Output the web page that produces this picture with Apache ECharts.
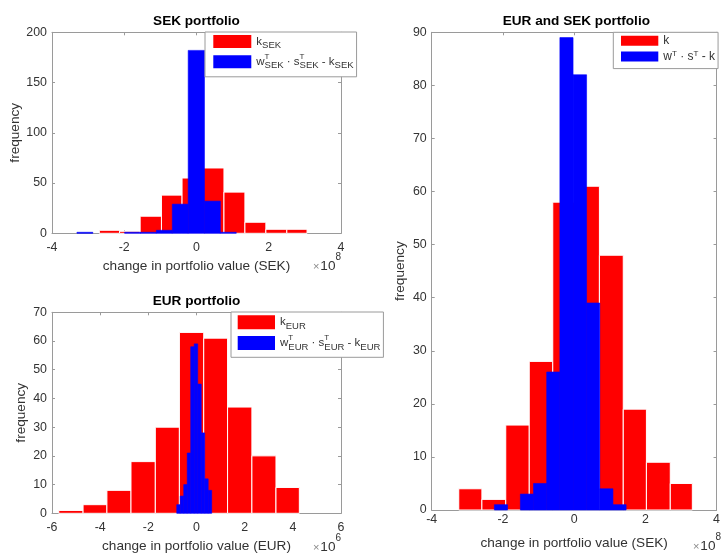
<!DOCTYPE html>
<html><head><meta charset="utf-8">
<script src="https://cdn.jsdelivr.net/npm/echarts@6/dist/echarts.min.js"></script>
<style>html,body{margin:0;padding:0;background:#fff}#c{width:723px;height:555px}</style>
</head><body><div id="c"></div>
<script>
// ---- data (x values in units of the axis multiplier) ----
const sekRedEdges  = [-2.69,-2.13,-1.56,-0.97,-0.40,0.18,0.76,1.34,1.92,2.50,3.06];
const sekRedCounts = [3,2,17,38,55,65,41,11,4,4];
const sekBlueEdges  = [-3.31,-2.87,-2.43,-1.99,-1.55,-1.11,-0.67,-0.23,0.22,0.66,1.10];
const sekBlueCounts = [1,0,0,1,1,3,29,182,32,1];
const eurRedEdges  = [-5.72,-4.71,-3.72,-2.72,-1.71,-0.71,0.30,1.29,2.30,3.30,4.27];
const eurRedCounts = [1,3,8,18,30,63,61,37,20,9];
const eurBlueEdges  = [-0.82,-0.675,-0.53,-0.385,-0.24,-0.095,0.05,0.195,0.34,0.485,0.63];
const eurBlueCounts = [3,6,10,21,58,59,45,28,12,8];
const totRedEdges  = [-3.24,-2.59,-1.92,-1.26,-0.60,0.05,0.71,1.38,2.03,2.70,3.32];
const totRedCounts = [4,2,16,28,58,61,48,19,9,5];
const totBlueEdges  = [-2.24,-1.87,-1.51,-1.14,-0.77,-0.40,-0.03,0.35,0.72,1.09,1.46];
const totBlueCounts = [1,0,3,5,26,89,82,39,4,1];

const sekXTicks = [-4,-2,0,2,4];
const sekYTicks = [0,50,100,150,200];
const eurXTicks = [-6,-4,-2,0,2,4,6];
const eurYTicks = [0,10,20,30,40,50,60,70];
const totXTicks = [-4,-2,0,2,4];
const totYTicks = [0,10,20,30,40,50,60,70,80,90];

const titles = ['SEK portfolio','EUR portfolio','EUR and SEK portfolio'];
const xNames = ['change in portfolio value (SEK)','change in portfolio value (EUR)','change in portfolio value (SEK)'];
const exps = ['8','6','8'];

const FONT = "'Liberation Sans', Arial, Helvetica, sans-serif";
const AX = '#9a9a9a';
const TX = '#333';

const grids = [
  {left:52, top:32.3, width:289, height:201},
  {left:52, top:312.3, width:289, height:201},
  {left:431.7, top:32.3, width:289.3, height:481}
];

function axisPair(ticks, g, isX, labelMargin, name, nameGap) {
  const base = {
    type:'value', gridIndex:g, min:ticks[0], max:ticks[ticks.length-1], interval:ticks[1]-ticks[0],
    splitLine:{show:false},
    axisLine:{show:true, onZero:false, lineStyle:{color:AX, width:1}},
    axisTick:{show:true, inside:true, length:3, lineStyle:{color:AX, width:1}},
  };
  const main = Object.assign({}, base, {
    position: isX ? 'bottom' : 'left',
    axisLabel:{show:true, fontFamily:FONT, fontSize:12.4, color:TX, margin:labelMargin,
      formatter: v => String(v)},
    name:name, nameLocation:'middle', nameGap:nameGap,
    nameTextStyle:{fontFamily:FONT, fontSize:13.6, color:TX}
  });
  const sec = Object.assign({}, base, {position: isX ? 'top' : 'right', axisLabel:{show:false}});
  return [main, sec];
}

const xAxis = [].concat(
  axisPair(sekXTicks, 0, true, 8, xNames[0], 26),
  axisPair(eurXTicks, 1, true, 8, xNames[1], 26),
  axisPair(totXTicks, 2, true, 4, xNames[2], 26)
);
const yAxis = [].concat(
  axisPair(sekYTicks, 0, false, 5, 'frequency', 30),
  axisPair(eurYTicks, 1, false, 5, 'frequency', 24),
  axisPair(totYTicks, 2, false, 5, 'frequency', 24)
);

function hist(name, edges, counts, color, g, stroke, lw) {
  return {
    type:'custom', name:name, xAxisIndex:2*g, yAxisIndex:2*g,
    itemStyle:{color:color}, silent:true, animation:false,
    encode:{x:[0,1], y:2},
    data: counts.map((c,i)=>[edges[i], edges[i+1], c]),
    renderItem: function(params, api) {
      const p0 = api.coord([api.value(0), api.value(2)]);
      const p1 = api.coord([api.value(1), 0]);
      if (api.value(2) <= 0) return null;
      return {type:'rect', shape:{x:p0[0], y:p0[1], width:p1[0]-p0[0], height:p1[1]-p0[1]},
        style:{fill:color, stroke:stroke, lineWidth:lw}};
    }
  };
}

const series = [
  hist('kSEK', sekRedEdges, sekRedCounts, '#ff0000', 0, '#ffffff', 1),
  hist('wSEK', sekBlueEdges, sekBlueCounts, '#0000ff', 0, '#0000ff', 0.6),
  hist('kEUR', eurRedEdges, eurRedCounts, '#ff0000', 1, '#ffffff', 1),
  hist('wEUR', eurBlueEdges, eurBlueCounts, '#0000ff', 1, '#0000ff', 0.6),
  hist('k', totRedEdges, totRedCounts, '#ff0000', 2, '#ffffff', 1),
  hist('w', totBlueEdges, totBlueCounts, '#0000ff', 2, '#0000ff', 0.6)
];

const legendLabels = {
  kSEK: '{m|k}{sub|SEK}',
  wSEK: '{m|w}{sup|T}{sub|SEK}{m| · s}{sup|T}{sub|SEK}{m| - k}{sub|SEK}',
  kEUR: '{m|k}{sub|EUR}',
  wEUR: '{m|w}{sup|T}{sub|EUR}{m| · s}{sup|T}{sub|EUR}{m| - k}{sub|EUR}',
  k: '{m|k}',
  w: '{m|w}{sup|T}{m| · s}{sup|T}{m| - k}'
};
const richSmall = {
  m:{fontFamily:FONT, fontSize:11.5, color:TX, lineHeight:18},
  sub:{fontFamily:FONT, fontSize:9.5, color:TX, lineHeight:11, verticalAlign:'bottom'},
  sup:{fontFamily:FONT, fontSize:8, color:TX, lineHeight:8, verticalAlign:'top', width:0}
};
const richBig = {
  m:{fontFamily:FONT, fontSize:12, color:TX, lineHeight:14},
  sup:{fontFamily:FONT, fontSize:8, color:TX, lineHeight:4, verticalAlign:'top'}
};
function legend(names, left, top, pad, iw, ih, gap, rich) {
  return {
    data:names, orient:'vertical', left:left, top:top, padding:pad,
    itemWidth:iw, itemHeight:ih, itemGap:gap, icon:'rect',
    backgroundColor:'#fff', borderColor:AX, borderWidth:1, borderRadius:0,
    itemStyle:{borderWidth:0}, selectedMode:false,
    formatter: n => legendLabels[n],
    textStyle:{fontFamily:FONT, color:TX, rich:rich}
  };
}

const titleTops = [14, 294, 14];
const titleOpts = grids.map((g,i)=>({
  text:titles[i], left:g.left + g.width/2, top:titleTops[i], textAlign:'center', padding:0,
  textStyle:{fontFamily:FONT, fontSize:13.6, fontWeight:'bold', color:'#000'}
}));

const expY = [266.7, 547.5, 546.7];
const graphic = grids.map((g,i)=>({
  type:'text', x:g.left + g.width, y:expY[i], z:10,
  style:{
    text:'{x|×}{n|10}{s|' + exps[i] + '}', align:'right', verticalAlign:'middle',
    rich:{
      x:{fontFamily:FONT, fontSize:11, fill:'#888', lineHeight:28, padding:[0,1,0,0]},
      n:{fontFamily:FONT, fontSize:13.6, fill:TX, lineHeight:28},
      s:{fontFamily:FONT, fontSize:10, fill:TX, lineHeight:8, verticalAlign:'top'}
    }
  }
}));

const chart = echarts.init(document.getElementById('c'), null, {renderer:'canvas'});
chart.setOption({
  backgroundColor:'#fff',
  animation:false,
  title:titleOpts,
  grid:grids,
  xAxis:xAxis,
  yAxis:yAxis,
  legend:[
    legend(['kSEK','wSEK'], 205, 32, [3,3,6,8.3], 38, 13, 2.3, richSmall),
    legend(['kEUR','wEUR'], 231, 312, [3.3,3,5.3,6.7], 37.3, 14, 2.7, richSmall),
    legend(['k','w'], 613.3, 32.3, [2.5,3,6,7.7], 37.3, 10, 2.8, richBig)
  ],
  graphic:graphic,
  series:series
});
</script></body></html>
